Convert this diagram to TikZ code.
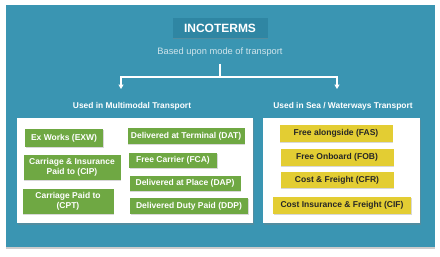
\documentclass[tikz,border=0pt]{standalone}
\usepackage{fontspec}
\setmainfont{Liberation Sans}
\usetikzlibrary{positioning, arrows.meta, shadows}
\definecolor{seaBlue}{HTML}{3A95B2}
\definecolor{titleBlue}{HTML}{2F86A3}
\definecolor{termGreen}{HTML}{6FA843}
\definecolor{termYellow}{HTML}{E3CD33}
\definecolor{subGrey}{HTML}{CFE4EB}

\begin{document}
\begin{tikzpicture}[x=1pt, y=-1pt,
    panel/.style={fill=white, drop shadow={opacity=0.35, shadow xshift=1pt, shadow yshift=-1.5pt}},
    greenbox/.style={fill=termGreen, text=white, font=\fontsize{8.5}{9.8}\selectfont\bfseries,
          align=center, minimum height=16pt, inner xsep=3pt, inner ysep=1.5pt,
          drop shadow={opacity=0.3, shadow xshift=0.8pt, shadow yshift=-1pt}},
    yellowbox/.style={fill=termYellow, text=black!85, font=\fontsize{8.5}{9.8}\selectfont\bfseries,
          align=center, minimum height=17pt, inner xsep=3pt,
          drop shadow={opacity=0.3, shadow xshift=0.8pt, shadow yshift=-1pt}},
    heading/.style={text=white, font=\fontsize{8.4}{10}\selectfont\bfseries},
    arr/.style={draw=white, line width=1.4pt, -{Triangle[width=5pt,length=4.5pt]}}]
  \useasboundingbox[fill=white] (0,0) rectangle (440,257);
  \fill[seaBlue, drop shadow={opacity=0.4, shadow xshift=0pt, shadow yshift=-1.5pt}] (6,5) rectangle (435,247);

  % title and subtitle
  \node[fill=titleBlue, text=white, font=\fontsize{12}{14}\selectfont\bfseries,
        minimum width=95pt, minimum height=20pt,
        drop shadow={opacity=0.35, shadow xshift=0.8pt, shadow yshift=-1.2pt}] (title) at (220,28) {INCOTERMS};
  \node[text=subGrey, font=\fontsize{9.3}{11}\selectfont] (sub) at (220,52) {Based upon mode of transport};

  % split towards the two groups
  \coordinate (split) at (220,77);
  \coordinate (multiTip) at (121,89);
  \coordinate (seaTip) at (337,89);
  \draw[white, line width=1.4pt, shorten <=4pt] (sub.south) -- (split);
  \draw[arr] (split) -| (multiTip);
  \draw[arr] (split) -| (seaTip);

  \node[heading] (multi) at (132,106) {Used in Multimodal Transport};
  \node[heading] (sea) at (343,106) {Used in Sea / Waterways Transport};

  % panels
  \path[panel] (17,118) rectangle (253,223);
  \path[panel] (263,118) rectangle (420,223);

  % multimodal terms
  \node[greenbox, minimum width=78pt, minimum height=18pt] (exw) at (64,138) {Ex Works (EXW)};
  \node[greenbox, minimum width=97pt, minimum height=25pt] (cip) at (72,167) {Carriage \& Insurance\\Paid to (CIP)};
  \node[greenbox, minimum width=91pt, minimum height=25pt] (cpt) at (68,201) {Carriage Paid to\\(CPT)};
  \node[greenbox, minimum width=117pt] (dat) at (186,136) {Delivered at Terminal (DAT)};
  \node[greenbox, minimum width=88pt, minimum height=15pt] (fca) at (173,160) {Free Carrier (FCA)};
  \node[greenbox, minimum width=111pt, minimum height=15pt] (dap) at (185,183) {Delivered at Place (DAP)};
  \node[greenbox, minimum width=118pt] (ddp) at (189,206) {Delivered Duty Paid (DDP)};

  % sea and waterway terms
  \node[yellowbox, minimum width=113pt] (fas) at (336,133) {Free alongside (FAS)};
  \node[yellowbox, minimum width=113pt] (fob) at (337,157) {Free Onboard (FOB)};
  \node[yellowbox, minimum width=113pt, minimum height=16pt] (cfr) at (337,180) {Cost \& Freight (CFR)};
  \node[yellowbox, minimum width=138pt] (cif) at (342,205) {Cost Insurance \& Freight (CIF)};
\end{tikzpicture}
\end{document}
